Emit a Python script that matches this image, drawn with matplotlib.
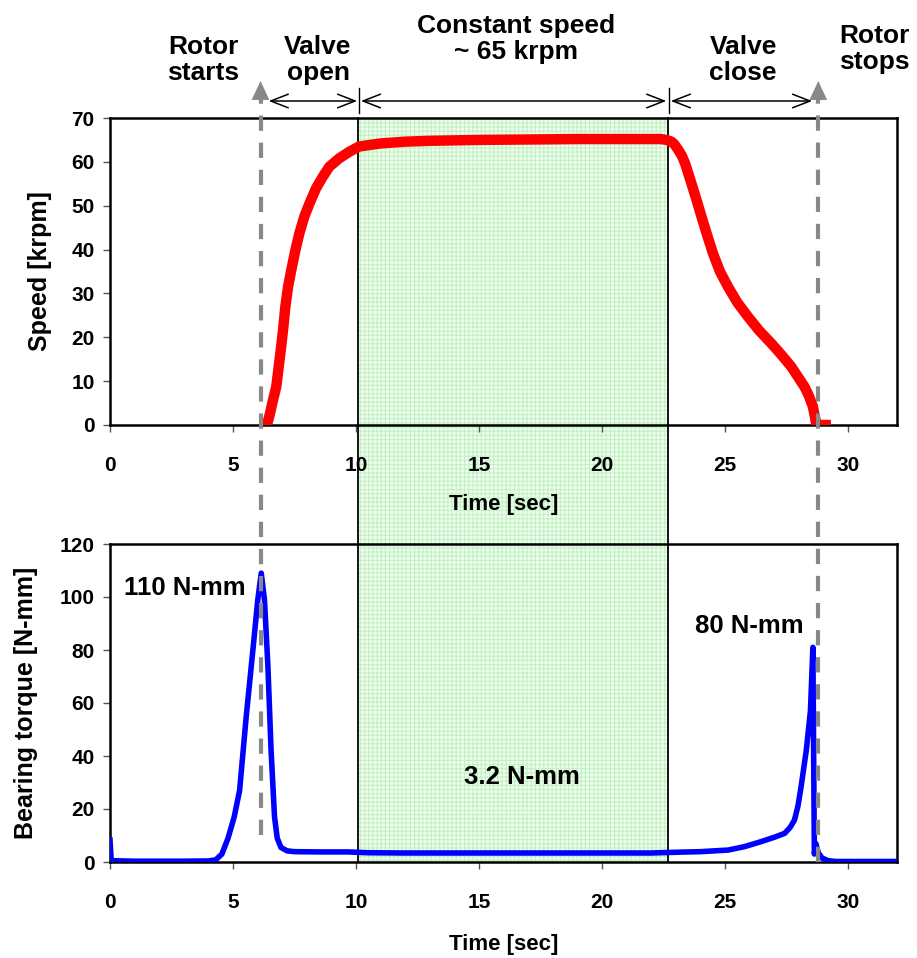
import matplotlib
matplotlib.use('Agg')
import matplotlib.pyplot as plt
from matplotlib.transforms import blended_transform_factory
from matplotlib.patches import Rectangle
from matplotlib.lines import Line2D

plt.rcParams['font.family'] = ['Liberation Sans', 'DejaVu Sans']
plt.rcParams['font.weight'] = 'bold'
plt.rcParams['lines.scale_dashes'] = False
plt.rcParams['hatch.linewidth'] = 0.8

# ---------------- data ----------------
speed_t = [6.38, 6.5, 6.62, 6.76, 6.86, 6.96, 7.05, 7.13, 7.24, 7.37, 7.54, 7.70, 7.90,
           8.11, 8.38, 8.65, 8.92, 9.32, 9.73, 10.13, 11.0, 12.0, 13.0, 15.0, 17.0,
           19.0, 21.0, 22.4, 22.63, 22.83, 22.95, 23.11, 23.25, 23.38, 23.5, 23.64,
           23.85, 24.05, 24.28, 24.52, 24.8, 25.13, 25.5, 25.94, 26.4, 26.89, 27.3,
           27.70, 27.97, 28.24, 28.42, 28.58, 28.65, 28.71, 28.75, 29.1]
speed_v = [0.0, 2.5, 5.5, 8.7, 13.3, 17.9, 22.4, 27.0, 31.5, 35.3, 39.9, 43.7, 47.5,
           50.5, 54.0, 56.6, 58.9, 60.8, 62.3, 63.5, 64.2, 64.6, 64.8, 65.0, 65.1,
           65.2, 65.2, 65.2, 65.0, 64.6, 64.0, 62.7, 61.4, 59.7, 57.6, 55.1,
           51.3, 47.5, 43.3, 39.1, 35.0, 31.5, 28.0, 24.7, 21.5, 18.6, 16.0,
           13.3, 11.0, 8.7, 6.6, 4.2, 2.2, 0.4, 0.0, 0.0]

torque_t = [0.0, 0.05, 1.0, 2.0, 3.0, 4.0, 4.3, 4.55, 4.8, 5.05, 5.27, 5.54, 5.81, 6.01,
            6.15, 6.28, 6.42, 6.55, 6.69, 6.8, 6.95, 7.2, 7.5, 8.5, 9.7, 10.5, 12.0,
            14.0, 16.0, 18.0, 20.0, 22.0, 23.1, 24.0, 25.13, 25.8, 26.48, 27.0, 27.43,
            27.65, 27.83, 27.97, 28.1, 28.31, 28.48, 28.58, 28.64, 28.7, 28.8, 28.95,
            29.2, 29.5, 32.0]
torque_v = [8.3, 0.5, 0.3, 0.3, 0.3, 0.4, 0.8, 3.0, 9.0, 17.0, 27.0, 55.0, 80.0, 99.0,
            109.0, 99.0, 74.0, 42.0, 17.0, 9.0, 5.5, 4.2, 3.9, 3.8, 3.8, 3.5, 3.4,
            3.4, 3.4, 3.4, 3.4, 3.4, 3.7, 3.9, 4.5, 5.8, 7.7, 9.3, 10.8,
            13.0, 15.8, 21.0, 28.4, 42.0, 57.0, 81.0, 3.0, 7.0, 3.5, 1.5,
            0.5, 0.2, 0.2]

x_ticks = [0, 5, 10, 15, 20, 25, 30]
speed_ticks = [0, 10, 20, 30, 40, 50, 60, 70]
torque_ticks = [0, 20, 40, 60, 80, 100, 120]

valve_open_t = 10.08
valve_close_t = 22.69
rotor_start_t = 6.12
rotor_stop_t = 28.8

# ---------------- figure ----------------
W, H = 917, 958
fig = plt.figure(figsize=(W / 100, H / 100), dpi=100)

def fx(px):
    return px / W

def fy(py):
    return 1 - py / H

ax1 = fig.add_axes([fx(110), fy(425), fx(897) - fx(110), fy(118) - fy(425)])
ax2 = fig.add_axes([fx(110), fy(862), fx(897) - fx(110), fy(544) - fy(862)])

ax1.plot(speed_t, speed_v, color='#ff0000', lw=7.5, solid_capstyle='projecting',
         solid_joinstyle='round', zorder=3)
ax2.plot(torque_t, torque_v, color='#0000ff', lw=4.0, solid_capstyle='projecting',
         solid_joinstyle='round', zorder=3)

for ax, yt, ylab, lx in [(ax1, speed_ticks, 'Speed [krpm]', -0.074),
                         (ax2, torque_ticks, 'Bearing torque [N-mm]', -0.092)]:
    ax.set_facecolor('none')
    ax.set_xlim(0, 32)
    ax.set_ylim(yt[0], yt[-1])
    ax.set_xticks(x_ticks)
    ax.set_yticks(yt)
    ax.tick_params(axis='both', direction='out', length=5, width=1, color='#555555',
                   labelsize=15)
    ax.tick_params(axis='x', pad=17)
    ax.tick_params(axis='y', pad=6)
    for lab in ax.get_xticklabels() + ax.get_yticklabels():
        lab.set_fontweight('bold')
    for sp in ax.spines.values():
        sp.set_linewidth(1.8)
        sp.set_color('black')
    ax.set_ylabel(ylab, fontsize=18, fontweight='bold')
    ax.yaxis.set_label_coords(lx, 0.5)
    ax.set_xlabel('Time [sec]', fontsize=16, fontweight='bold')
    ax.xaxis.set_label_coords(0.5, -0.225)

# annotations on torque plot
fig.text(fx(185), fy(588), '110 N-mm', fontsize=18.5, fontweight='bold', ha='center', va='center')
fig.text(fx(749), fy(626), '80 N-mm', fontsize=18.5, fontweight='bold', ha='center', va='center')
fig.text(fx(522), fy(777), '3.2 N-mm', fontsize=18.5, fontweight='bold', ha='center', va='center')

# header texts
for txt, x, y in [('Rotor\nstarts', 203, 60), ('Valve\nopen', 318, 60),
                  ('Constant speed\n~ 65 krpm', 516, 39), ('Valve\nclose', 743, 60),
                  ('Rotor\nstops', 874, 49)]:
    fig.text(fx(x), fy(y), txt, fontsize=19, fontweight='bold', ha='center', va='center',
             linespacing=1.15)

trans = blended_transform_factory(ax1.transData, fig.transFigure)

# green shaded region across both plots (behind the curves)
fig.add_artist(Rectangle((valve_open_t, fy(862)), valve_close_t - valve_open_t,
                         fy(118) - fy(862), transform=trans,
                         facecolor='#effcef', edgecolor='#c2f2c2',
                         hatch='++++', linewidth=0, zorder=-2))
for xv in [valve_open_t, valve_close_t]:
    fig.add_artist(Line2D([xv, xv], [fy(862), fy(118)], transform=trans,
                          color='black', lw=1.3, zorder=-1))

# dashed grey arrows
for xv, ybot in [(rotor_start_t, 835), (rotor_stop_t, 862)]:
    fig.add_artist(Line2D([xv, xv], [fy(ybot), fy(96)], transform=trans,
                          color='#888888', lw=3, linestyle=(0, (11, 8.5)), zorder=7))
    ax1.annotate('', xy=(xv, fy(81)), xytext=(xv, fy(97)),
                 xycoords=('data', 'figure fraction'),
                 textcoords=('data', 'figure fraction'),
                 arrowprops=dict(arrowstyle='-|>,head_length=0.75,head_width=0.35',
                                 color='#888888', lw=0.1, shrinkA=0, shrinkB=0,
                                 mutation_scale=18),
                 annotation_clip=False)

# double-headed arrows for phases
arrow_y = fy(101)
for x1, x2 in [(6.45, 10.05), (10.2, 22.62), (22.8, 28.55)]:
    ax1.annotate('', xy=(x2, arrow_y), xytext=(x1, arrow_y),
                 xycoords=('data', 'figure fraction'),
                 textcoords=('data', 'figure fraction'),
                 arrowprops=dict(arrowstyle='<->,head_length=0.9,head_width=0.35',
                                 color='black', lw=1.1, shrinkA=0, shrinkB=0,
                                 mutation_scale=14),
                 annotation_clip=False)
for xv in [valve_open_t + 0.05, valve_close_t + 0.03]:
    fig.add_artist(Line2D([xv, xv], [fy(113), fy(88)], transform=trans,
                          color='black', lw=1.0, zorder=6))

fig.savefig('out.png', dpi=100)
